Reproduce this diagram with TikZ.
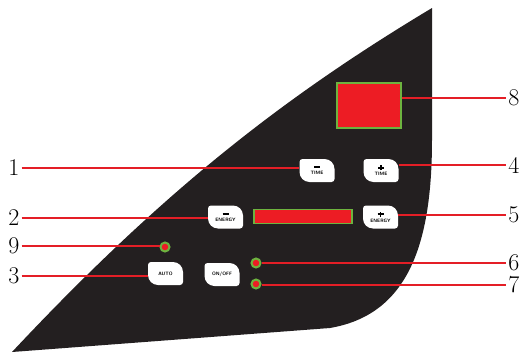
\documentclass[tikz,border=0pt]{standalone}
\definecolor{panel}{HTML}{231F20}
\definecolor{ledred}{HTML}{ED1C24}
\definecolor{ledgreen}{HTML}{6DB33F}
\definecolor{leadred}{HTML}{E41E26}
\newcommand\leafshape[1]{\fill[white,shift={(#1)}] (7.5,-11.5) .. controls (13,-11.5) and (17.5,-7) .. (17.5,-1.5) -- (17.5,8.5) .. controls (17.5,10.15) and (16.15,11.5) .. (14.5,11.5) -- (-7.5,11.5) .. controls (-13,11.5) and (-17.5,7) .. (-17.5,1.5) -- (-17.5,-8.5) .. controls (-17.5,-10.15) and (-16.15,-11.5) .. (-14.5,-11.5) -- cycle;}
\newcommand\plussign{\makebox[6pt][l]{\rule[1.6pt]{6pt}{1.8pt}\hspace{-3.9pt}\rule{1.8pt}{5pt}}}
\begin{document}
\begin{tikzpicture}[x=1pt,y=-1pt,
  lbl/.style={font=\fontsize{24}{24}\selectfont, inner sep=0pt},
  leader/.style={draw=leadred, line width=1.2pt},
  btxt/.style={minimum width=35pt, minimum height=23pt, inner sep=0pt, align=center, font=\sffamily\bfseries\fontsize{4.8}{5}\selectfont},
  led/.style={circle, fill=ledred, draw=ledgreen, line width=2pt, minimum size=9pt, inner sep=0pt},
  display/.style={fill=ledred, draw=ledgreen, line width=1.5pt, inner sep=0pt}]
\useasboundingbox (0,0) rectangle (523,354);
% panel
\fill[panel] (12,352) .. controls (162,192) and (282,98) .. (432,8) -- (432,140) .. controls (432,250) and (405,315) .. (330,328) -- cycle;
% displays
\node[display, minimum width=64pt, minimum height=45pt] (d8) at (369,105.5) {};
\node[display, minimum width=98pt, minimum height=14pt] (bar) at (303,216.5) {};
% buttons
\coordinate (c1) at (317,170.5);
\coordinate (c4) at (381,170.5);
\coordinate (c2) at (225.5,217);
\coordinate (c5) at (380.5,217);
\coordinate (c3) at (165.5,273.5);
\coordinate (cOn) at (222,274.5);
\leafshape{c1}\leafshape{c4}\leafshape{c2}\leafshape{c5}\leafshape{c3}\leafshape{cOn}
\node[btxt] (b1) at (c1) {\rule{6pt}{2pt}\\[1.5pt]TIME};
\node[btxt] (b4) at (c4) {\plussign\\[0.5pt]TIME};
\node[btxt] (b2) at (c2) {\rule{6pt}{2pt}\\[1.5pt]ENERGY};
\node[btxt] (b5) at (c5) {\plussign\\[0.5pt]ENERGY};
\node[btxt] (b3) at (c3) {AUTO};
\node[btxt] (bOn) at (cOn) {ON/OFF};
% leds
\node[led] (led9) at (165,247) {};
\node[led] (led6) at (256,263) {};
\node[led] (led7) at (256,284) {};
% labels
\node[lbl] (l1) at (14,168) {1};
\node[lbl] (l2) at (14,218) {2};
\node[lbl] (l9) at (14,246) {9};
\node[lbl] (l3) at (14,276) {3};
\node[lbl] (l8) at (514,98) {8};
\node[lbl] (l4) at (514,165) {4};
\node[lbl] (l5) at (514,215) {5};
\node[lbl] (l6) at (514,263) {6};
\node[lbl] (l7) at (514,285) {7};
% leaders
\draw[leader] ([xshift=2pt]l1.east) -- (l1.east -| b1.west);
\draw[leader] ([xshift=2pt]l2.east) -- (l2.east -| b2.west);
\draw[leader] ([xshift=2pt]l9.east) -- (l9.east -| led9.west);
\draw[leader] ([xshift=2pt]l3.east) -- (l3.east -| b3.west);
\draw[leader] (d8.east |- l8.west) -- ([xshift=-2pt]l8.west);
\draw[leader] (b4.east |- l4.west) -- ([xshift=-2pt]l4.west);
\draw[leader] (b5.east |- l5.west) -- ([xshift=-2pt]l5.west);
\draw[leader] (led6.east |- l6.west) -- ([xshift=-2pt]l6.west);
\draw[leader] (led7.east |- l7.west) -- ([xshift=-2pt]l7.west);
\end{tikzpicture}
\end{document}
